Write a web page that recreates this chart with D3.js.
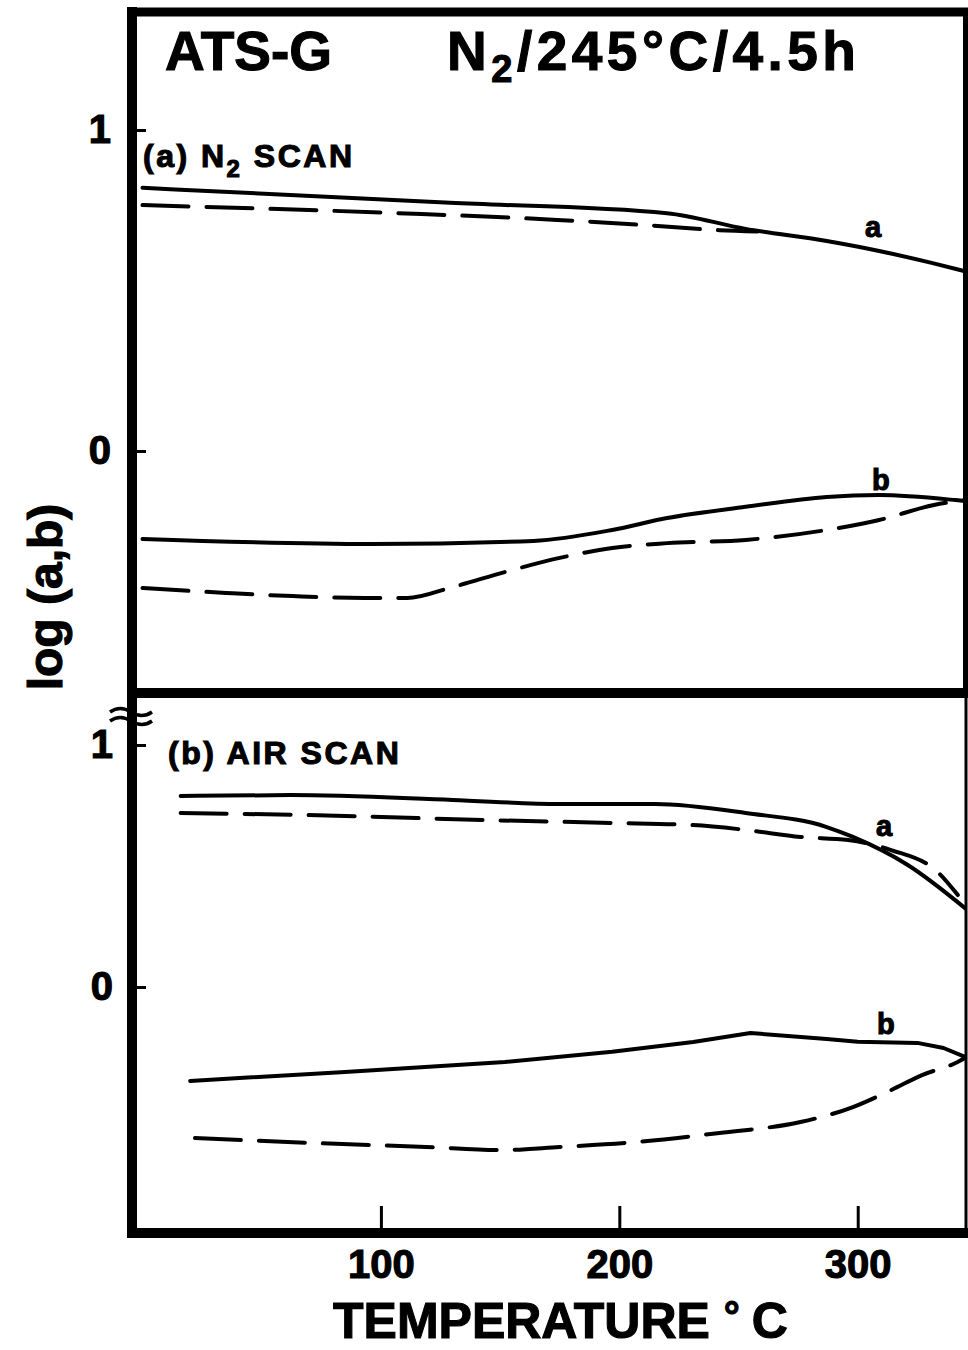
<!DOCTYPE html>
<html>
<head>
<meta charset="utf-8">
<script src="https://cdnjs.cloudflare.com/ajax/libs/d3/7.8.5/d3.min.js"></script>
<style>
  body { margin: 0; background: #fff; }
  svg text { font-family: "Liberation Sans", Arial, sans-serif; font-weight: bold; fill: #000; stroke: #000; stroke-width: 1.1; }
</style>
</head>
<body>
<div id="chart"></div>
<script>
// temperature (deg C) / log value pairs
// (a) N2 scan
const n2ScanA = [[0, 0.82], [129, 0.773], [220, 0.741], [253, 0.692], [287, 0.654], [309, 0.623], [331, 0.586], [345, 0.56]];
const n2ScanADash = [[0, 0.766], [107, 0.741], [174, 0.72], [210, 0.704], [242, 0.688], [258, 0.684]];
const n2ScanB = [[0, -0.274], [96, -0.29], [164, -0.28], [197, -0.246], [220, -0.209], [253, -0.174], [287, -0.143], [309, -0.137], [341, -0.153], [345, -0.156]];
const n2ScanBDash = [[0, -0.427], [35, -0.442], [63, -0.452], [93, -0.458], [111, -0.458], [130, -0.424], [152, -0.377], [175, -0.333], [197, -0.302], [220, -0.287], [253, -0.277], [287, -0.246], [309, -0.215], [332, -0.168], [345, -0.153]];
// (b) air scan
const airScanA = [[16, 0.789], [62, 0.793], [130, 0.773], [175, 0.756], [215, 0.756], [253, 0.719], [287, 0.661], [298, 0.62], [321, 0.504], [345, 0.326]];
const airScanADash = [[16, 0.719], [85, 0.707], [143, 0.69], [197, 0.678], [231, 0.669], [253, 0.649], [276, 0.62], [296, 0.607], [314, 0.566], [334, 0.471], [342, 0.38]];
const airScanB = [[20, -0.388], [85, -0.351], [152, -0.31], [197, -0.268], [231, -0.227], [255, -0.19], [287, -0.215], [300, -0.226], [325, -0.231], [336, -0.252], [345, -0.289]];
const airScanBDash = [[22, -0.624], [73, -0.645], [119, -0.661], [150, -0.674], [175, -0.661], [208, -0.64], [242, -0.603], [276, -0.558], [298, -0.496], [314, -0.426], [327, -0.364], [341, -0.314], [345, -0.293]];

const xTicks = [100, 200, 300];
const yTicks = [0, 1];

const W = 968, H = 1350;
const frameL = 132, frameR = 966, frameT = 12, frameB = 1233, divider = 693;

const svg = d3.select("#chart").append("svg")
  .attr("width", W).attr("height", H);

const x = d3.scaleLinear().domain([0, 345]).range([142.5, 965]);
const yTop = d3.scaleLinear().domain([0, 1]).range([451, 130]);
const yBot = d3.scaleLinear().domain([0, 1]).range([987, 745]);

// frame
const frame = svg.append("g").attr("stroke", "#000").attr("fill", "none");
frame.append("line").attr("x1", frameL).attr("x2", frameL).attr("y1", frameT - 5).attr("y2", frameB + 5).attr("stroke-width", 10);
frame.append("line").attr("x1", frameL - 5).attr("x2", W).attr("y1", frameT).attr("y2", frameT).attr("stroke-width", 9);
frame.append("line").attr("x1", frameL - 5).attr("x2", W).attr("y1", frameB).attr("y2", frameB).attr("stroke-width", 10);
frame.append("line").attr("x1", frameL).attr("x2", W).attr("y1", divider).attr("y2", divider).attr("stroke-width", 10);
frame.append("line").attr("x1", frameR).attr("x2", frameR).attr("y1", frameT).attr("y2", divider).attr("stroke-width", 6);
frame.append("line").attr("x1", frameR).attr("x2", frameR).attr("y1", divider).attr("y2", frameB).attr("stroke-width", 3);

// axes
function styleAxis(g) {
  g.select(".domain").remove();
  g.selectAll(".tick line").attr("stroke", "#000").attr("stroke-width", 3);
  g.selectAll(".tick text").attr("font-size", 40).attr("font-family", null).attr("fill", null);
}

svg.append("g")
  .attr("transform", `translate(0,${frameB})`)
  .call(d3.axisBottom(x).tickValues(xTicks).tickSize(-27).tickPadding(17).tickFormat(d3.format("d")))
  .call(styleAxis);

svg.append("g")
  .attr("transform", `translate(${frameL},0)`)
  .call(d3.axisLeft(yTop).tickValues(yTicks).tickSize(-14).tickPadding(21).tickFormat(d3.format("d")))
  .call(styleAxis);

svg.append("g")
  .attr("transform", `translate(${frameL},0)`)
  .call(d3.axisLeft(yBot).tickValues(yTicks).tickSize(-14).tickPadding(19).tickFormat(d3.format("d")))
  .call(styleAxis);

// axis break on the left spine
svg.append("g").attr("fill", "none").attr("stroke", "#000").attr("stroke-width", 3.5)
  .selectAll("path").data([710, 719]).join("path")
  .attr("d", d => `M110,${d + 2} q10,-7 21,0 t21,0`);

// curves
const line = (ys, c) => d3.line().x(d => x(d[0])).y(d => ys(d[1])).curve(c);
const curves = [
  [n2ScanA, yTop, false, d3.curveMonotoneX], [n2ScanADash, yTop, true, d3.curveMonotoneX],
  [n2ScanB, yTop, false, d3.curveMonotoneX], [n2ScanBDash, yTop, true, d3.curveMonotoneX],
  [airScanA, yBot, false, d3.curveMonotoneX], [airScanADash, yBot, true, d3.curveMonotoneX],
  [airScanB, yBot, false, d3.curveLinear], [airScanBDash, yBot, true, d3.curveMonotoneX]
];
svg.append("g").selectAll("path").data(curves).join("path")
  .attr("d", d => line(d[1], d[3])(d[0]))
  .attr("fill", "none")
  .attr("stroke", "#000")
  .attr("stroke-width", 4)
  .attr("stroke-linecap", "round")
  .attr("stroke-linejoin", "round")
  .attr("stroke-dasharray", d => d[2] ? "46,18" : null);

// texts
const title = svg.append("g");
title.append("text").attr("x", 165).attr("y", 70).attr("font-size", 55).text("ATS-G");
const t2 = title.append("text").attr("x", 447).attr("y", 70).attr("font-size", 55).attr("letter-spacing", 4.5);
t2.append("tspan").text("N");
t2.append("tspan").attr("font-size", 38).attr("dy", 12).text("2");
t2.append("tspan").attr("dy", -12).text("/245°C/4.5h");

const la = svg.append("text").attr("x", 143).attr("y", 167).attr("font-size", 32).attr("letter-spacing", 2.5);
la.append("tspan").text("(a) N");
la.append("tspan").attr("font-size", 24).attr("dy", 10).text("2");
la.append("tspan").attr("dy", -10).text(" SCAN");

svg.append("text").attr("x", 168).attr("y", 764).attr("font-size", 32).attr("letter-spacing", 2.5).text("(b) AIR SCAN");

const curveLabels = [["a", 865, 237], ["b", 872, 490], ["a", 876, 836], ["b", 877, 1034]];
svg.append("g").selectAll("text").data(curveLabels).join("text")
  .attr("x", d => d[1]).attr("y", d => d[2]).attr("font-size", 29).text(d => d[0]);

const xl = svg.append("text").attr("x", 333).attr("y", 1338).attr("font-size", 50);
xl.append("tspan").text("TEMPERATURE");
xl.append("tspan").attr("font-size", 40).attr("dx", 14).attr("dy", -8).text("°");
xl.append("tspan").attr("dx", 12).attr("dy", 8).text("C");

svg.append("text")
  .attr("transform", "translate(62,597) rotate(-90)")
  .attr("text-anchor", "middle")
  .attr("font-size", 48)
  .text("log (a,b)");
</script>
</body>
</html>
